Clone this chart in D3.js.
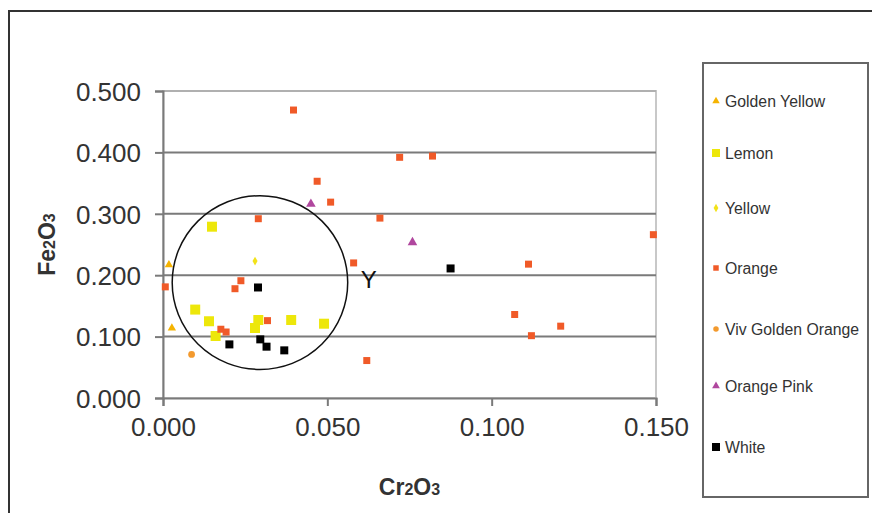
<!DOCTYPE html>
<html><head><meta charset="utf-8">
<script src="https://cdn.jsdelivr.net/npm/d3@7"></script>
<style>body{margin:0;background:#fff}svg{display:block}text{font-family:"Liberation Sans",Arial,sans-serif}</style>
</head><body>
<svg id="c" width="872" height="513"></svg>
<script>
const seriesNames = ["Golden Yellow","Lemon","Yellow","Orange","Viv Golden Orange","Orange Pink","White"];
const goldenYellow = [[0.0018,0.217],[0.0027,0.114]];
const lemon = [[0.0149,0.279],[0.0098,0.144],[0.014,0.125],[0.016,0.101],[0.029,0.127],[0.028,0.114],[0.039,0.127],[0.049,0.121]];
const yellow = [[0.028,0.223]];
const orange = [[0.0397,0.469],[0.072,0.392],[0.082,0.394],[0.0469,0.353],[0.051,0.319],[0.066,0.293],[0.029,0.292],[0.058,0.220],[0.0237,0.191],[0.0219,0.178],[0.0007,0.181],[0.0318,0.126],[0.0176,0.112],[0.0192,0.1075],[0.062,0.061],[0.1492,0.266],[0.1112,0.218],[0.107,0.136],[0.121,0.117],[0.1121,0.1015]];
const vivGoldenOrange = [[0.0087,0.071]];
const orangePink = [[0.045,0.316],[0.0759,0.2535]];
const white = [[0.0289,0.180],[0.0296,0.0955],[0.0315,0.0836],[0.0202,0.0873],[0.0369,0.0776],[0.0875,0.211]];
const xTicks = [0,0.05,0.10,0.15];
const yTicks = [0,0.1,0.2,0.3,0.4,0.5];
const circleCenter = [0.0295,0.188];
const circleRadius = [0.0267,0.1415];
const annotationLabel = {text:"Y", x:0.0626, y:0.194};

const seriesData = [goldenYellow,lemon,yellow,orange,vivGoldenOrange,orangePink,white];
const styles = [
  {shape:d3.symbolTriangle, size:30, color:"#F5B301"},
  {shape:d3.symbolSquare, size:100, color:"#EDE70A"},
  {shape:d3.symbolDiamond, size:22, color:"#F2E21A"},
  {shape:d3.symbolSquare, size:49, color:"#F05A28"},
  {shape:d3.symbolCircle, size:36, color:"#F39A2E"},
  {shape:d3.symbolTriangle, size:40, color:"#B0479E"},
  {shape:d3.symbolSquare, size:64, color:"#000000"}
];
const legendStyles = styles.map((s,i)=>({...s, size:[24,64,20,30,24,26,64][i]}));
const legendRowY = [101,153,208,268,329,386,447];

const svg = d3.select("#c");
// outer frame
svg.append("rect").attr("x",9).attr("y",11).attr("width",880).attr("height",520)
  .attr("fill","#fff").attr("stroke","#333").attr("stroke-width",2);

const x = d3.scaleLinear().domain([0,0.15]).range([163,656]);
const y = d3.scaleLinear().domain([0,0.5]).range([398,91]);

// plot border (light)
svg.append("rect").attr("x",x(0)).attr("y",y(0.5)).attr("width",x(0.15)-x(0)).attr("height",y(0)-y(0.5))
  .attr("fill","none").attr("stroke","#c8c8c8").attr("stroke-width",2);

// gridlines
svg.append("g").selectAll("line").data(yTicks.filter(t=>t>0)).join("line")
  .attr("x1",x(0)).attr("x2",x(0.15)).attr("y1",d=>y(d)).attr("y2",d=>y(d))
  .attr("stroke",d=>d===0.5?"#b0b0b0":"#7a7a7a").attr("stroke-width",2);

const fmt = d3.format(".3f");
const yAxis = svg.append("g").attr("transform",`translate(${x(0)},0)`)
  .call(d3.axisLeft(y).tickValues(yTicks).tickFormat(fmt).tickSize(8).tickPadding(14));
const xAxis = svg.append("g").attr("transform",`translate(0,${y(0)})`)
  .call(d3.axisBottom(x).tickValues(xTicks).tickFormat(fmt).tickSize(8).tickPadding(12));
[yAxis,xAxis].forEach(a=>{
  a.selectAll(".domain").attr("stroke","#7a7a7a").attr("stroke-width",2);
  a.selectAll(".tick line").attr("stroke","#7a7a7a").attr("stroke-width",2);
  a.selectAll(".tick text").attr("font-size",26).attr("fill","#333")
   .attr("font-family",'"Liberation Sans",Arial,sans-serif');
});
yAxis.selectAll(".tick text").attr("dy","0.36em");

// axis titles
const xt = svg.append("text").attr("x",(x(0)+x(0.15))/2).attr("y",495).attr("text-anchor","middle")
  .attr("font-size",23).attr("font-weight","bold").attr("fill","#333");
xt.append("tspan").text("Cr");
xt.append("tspan").attr("font-size",16).text("2");
xt.append("tspan").text("O");
xt.append("tspan").attr("font-size",16).text("3");

const yt = svg.append("text").attr("transform",`translate(55,${(y(0)+y(0.5))/2}) rotate(-90)`)
  .attr("text-anchor","middle").attr("font-size",23).attr("font-weight","bold").attr("fill","#333");
yt.append("tspan").text("Fe");
yt.append("tspan").attr("font-size",16).text("2");
yt.append("tspan").text("O");
yt.append("tspan").attr("font-size",16).text("3");

// points
seriesData.forEach((data,i)=>{
  const st = styles[i];
  svg.append("g").selectAll("path").data(data).join("path")
    .attr("transform",d=>`translate(${x(d[0])},${y(d[1])})`)
    .attr("d",d3.symbol().type(st.shape).size(st.size))
    .attr("fill",st.color);
});

// annotation circle
svg.append("ellipse").attr("cx",x(circleCenter[0])).attr("cy",y(circleCenter[1]))
  .attr("rx",x(circleRadius[0])-x(0)).attr("ry",y(0)-y(circleRadius[1]))
  .attr("fill","none").attr("stroke","#111").attr("stroke-width",1.5);
svg.append("text").attr("x",x(annotationLabel.x)).attr("y",y(annotationLabel.y)+9)
  .attr("text-anchor","middle").attr("font-size",24).attr("fill","#111").text(annotationLabel.text);

// legend
svg.append("rect").attr("x",703).attr("y",63).attr("width",165).attr("height",434)
  .attr("fill","#fff").attr("stroke","#666").attr("stroke-width",2);
const lg = svg.append("g").selectAll("g").data(seriesNames).join("g")
  .attr("transform",(d,i)=>`translate(0,${legendRowY[i]})`);
lg.append("path").attr("transform","translate(716,0)")
  .attr("d",(d,i)=>d3.symbol().type(legendStyles[i].shape).size(legendStyles[i].size)())
  .attr("fill",(d,i)=>legendStyles[i].color);
lg.append("text").attr("x",725).attr("y",0).attr("dy","0.35em")
  .attr("font-size",15.8).attr("fill","#333").text(d=>d);
</script>
</body></html>
